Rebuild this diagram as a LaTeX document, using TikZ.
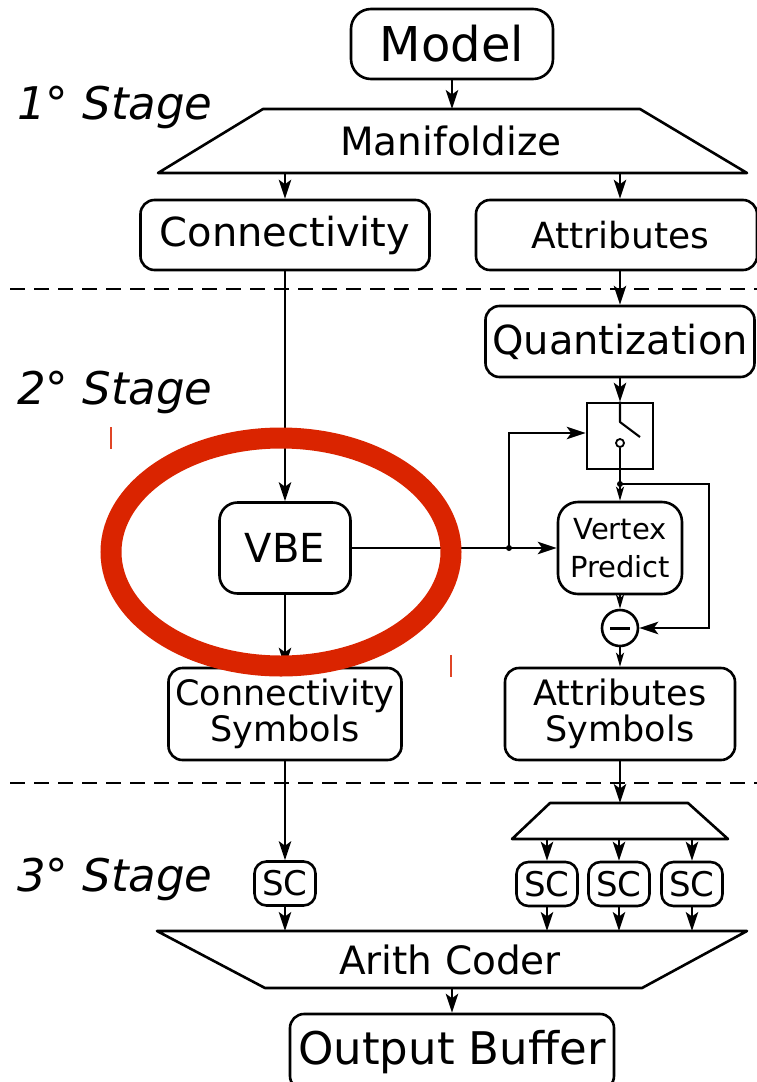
\documentclass[tikz,border=0pt]{standalone}
\usepackage{fontspec}
\setmainfont{DejaVu Sans}
\usetikzlibrary{arrows.meta}
\definecolor{markred}{RGB}{218,36,0}

\begin{document}
\begin{tikzpicture}[x=1pt,y=-1pt,
  box/.style={draw, line width=2.6pt, rounded corners=14pt, inner sep=0pt},
  wire/.style={line width=2.1pt},
  arr/.style={wire, -{Stealth[length=19pt,width=12.5pt,inset=4.5pt]}},
  sarr/.style={wire, -{Stealth[length=14pt,width=8pt,inset=3.5pt]}},
  shape edge/.style={line width=2.6pt, line join=round},
  stagelabel/.style={anchor=base west, inner sep=0pt, font=\fontsize{45}{52}\selectfont\itshape},
  sep line/.style={line width=2pt, dash pattern=on 15pt off 9pt},
  dot/.style={circle, fill, inner sep=0pt, minimum size=6pt},
]
\useasboundingbox (0,0) rectangle (757,1082);
\clip (0,0) rectangle (757,1082);

% stage separators and labels
\draw[sep line] (10,289) -- (757,289);
\draw[sep line] (10,783) -- (757,783);
\node[stagelabel] (st1) at (17,119) {1° Stage};
\node[stagelabel] (st2) at (17,404) {2° Stage};
\node[stagelabel] (st3) at (17,891) {3° Stage};

% ---- first stage ----
\node[box, rounded corners=20pt, minimum width=202pt, minimum height=70pt,
      font=\fontsize{48}{56}\selectfont] (model) at (452,44) {Model};
\draw[shape edge] (263,109) -- (640,109) -- (747,173) -- (158,173) -- cycle;
\node[font=\fontsize{39}{45}\selectfont] (manif) at (451,141) {Manifoldize};
\coordinate (manif-in) at (452,109);
\coordinate (manif-l) at (285,173);
\coordinate (manif-r) at (620,173);

\node[box, minimum width=289pt, minimum height=70pt,
      font=\fontsize{40}{46}\selectfont] (conn) at (285,235) {Connectivity};
\node[box, minimum width=281pt, minimum height=70pt,
      font=\fontsize{36}{42}\selectfont] (attr) at (616.5,235) {\hspace*{8pt}Attributes};

\draw[arr] (model.south) -- (manif-in);
\draw[arr] (manif-l) -- (conn.north);
\draw[arr] (manif-r) -- (manif-r |- attr.north);

% ---- second stage ----
\node[box, minimum width=269pt, minimum height=71pt,
      font=\fontsize{40}{46}\selectfont] (quant) at (620,341.5) {Quantization};
\draw[arr] (attr.south -| quant.north) -- (quant.north);

% switch
\node[draw, line width=2.6pt, minimum width=66pt, minimum height=66pt, inner sep=0pt] (sw) at (620,436) {};
\node[circle, draw, line width=1.8pt, fill=white, minimum size=8pt, inner sep=0pt] (pole) at (620,443) {};
\draw[wire, line join=round] (sw.north) -- (620,422) -- (640,437);
\draw[arr] (quant.south) -- (sw.north);
\node[dot] (jn) at (620,484) {};
\draw[wire] (pole.south) -- (jn.center);

\node[box, rounded corners=18pt, minimum width=131pt, minimum height=91pt,
      font=\fontsize{40}{46}\selectfont] (vbe) at (285,548) {VBE};
\node[box, rounded corners=20pt, minimum width=124pt, minimum height=92pt, align=center,
      font=\fontsize{29}{38}\selectfont] (vp) at (620,548) {Vertex\\Predict};
\node[circle, draw, line width=2.6pt, minimum size=36pt, inner sep=0pt] (minus) at (620,628) {};
\draw[line width=3pt] ([xshift=-10pt]minus.center) -- ([xshift=10pt]minus.center);

\node[box, minimum width=233pt, minimum height=92pt, align=center,
      font=\fontsize{35}{36}\selectfont] (csym) at (285,714) {Connectivity\\Symbols};
\node[box, minimum width=230pt, minimum height=92pt, align=center,
      font=\fontsize{35}{36}\selectfont] (asym) at (620,714) {Attributes\\Symbols};

\draw[arr] (conn.south) -- (vbe.north);
\node[dot] (jl) at (509,548) {};
\draw[arr] (vbe.east) -- (vp.west);
\draw[arr] (jl.center) |- ([yshift=3pt]sw.west);
\draw[sarr] (jn.center) -- (vp.north);
\draw[arr, line join=miter] (jn.center) -- ++(89,0) |- (minus.east);
\draw[sarr] (vp.south) -- (minus.north);
\draw[sarr] (minus.south) -- (asym.north);
\draw[arr] (vbe.south) -- (csym.north);

% ---- third stage ----
\draw[shape edge] (550,803) -- (688,803) -- (728,839) -- (512,839) -- cycle;
\coordinate (split-in) at (620,803);
\coordinate (split-a) at (547,839);
\coordinate (split-b) at (619,839);
\coordinate (split-c) at (692,839);

\tikzset{scbox/.style={box, rounded corners=12pt, minimum width=61pt, minimum height=44pt,
         font=\fontsize{34}{40}\selectfont}}
\node[scbox] (sc0) at (285,883.5) {SC};
\node[scbox] (sc1) at (547,884) {SC};
\node[scbox] (sc2) at (619,884) {SC};
\node[scbox] (sc3) at (692,884) {SC};

\draw[shape edge] (157,931) -- (747,931) -- (642,988) -- (265,988) -- cycle;
\node[font=\fontsize{39}{45}\selectfont] (arith) at (450,960) {Arith Coder};
\coordinate (arith-a) at (285,931);
\coordinate (arith-b) at (547,931);
\coordinate (arith-c) at (619,931);
\coordinate (arith-d) at (692,931);
\coordinate (arith-out) at (452,988);

\node[box, minimum width=324pt, minimum height=76pt,
      font=\fontsize{45}{52}\selectfont] (out) at (452,1052) {Output Buffer};

\draw[arr] (csym.south) -- (sc0.north);
\draw[arr] (asym.south) -- (split-in);
\draw[arr] (split-a) -- (sc1.north);
\draw[arr] (split-b) -- (sc2.north);
\draw[arr] (split-c) -- (sc3.north);
\draw[arr] (sc0.south) -- (arith-a);
\draw[arr] (sc1.south) -- (arith-b);
\draw[arr] (sc2.south) -- (arith-c);
\draw[arr] (sc3.south) -- (arith-d);
\draw[arr] (arith-out) -- (out.north);

% red highlight around the VBE block
\draw[markred, line width=21pt] (281,552) ellipse [x radius=170, y radius=114];
\draw[markred!85, line width=1.2pt] (111,427) -- (111,449);
\draw[markred!85, line width=1.2pt] (451,655) -- (451,677);
\end{tikzpicture}
\end{document}
